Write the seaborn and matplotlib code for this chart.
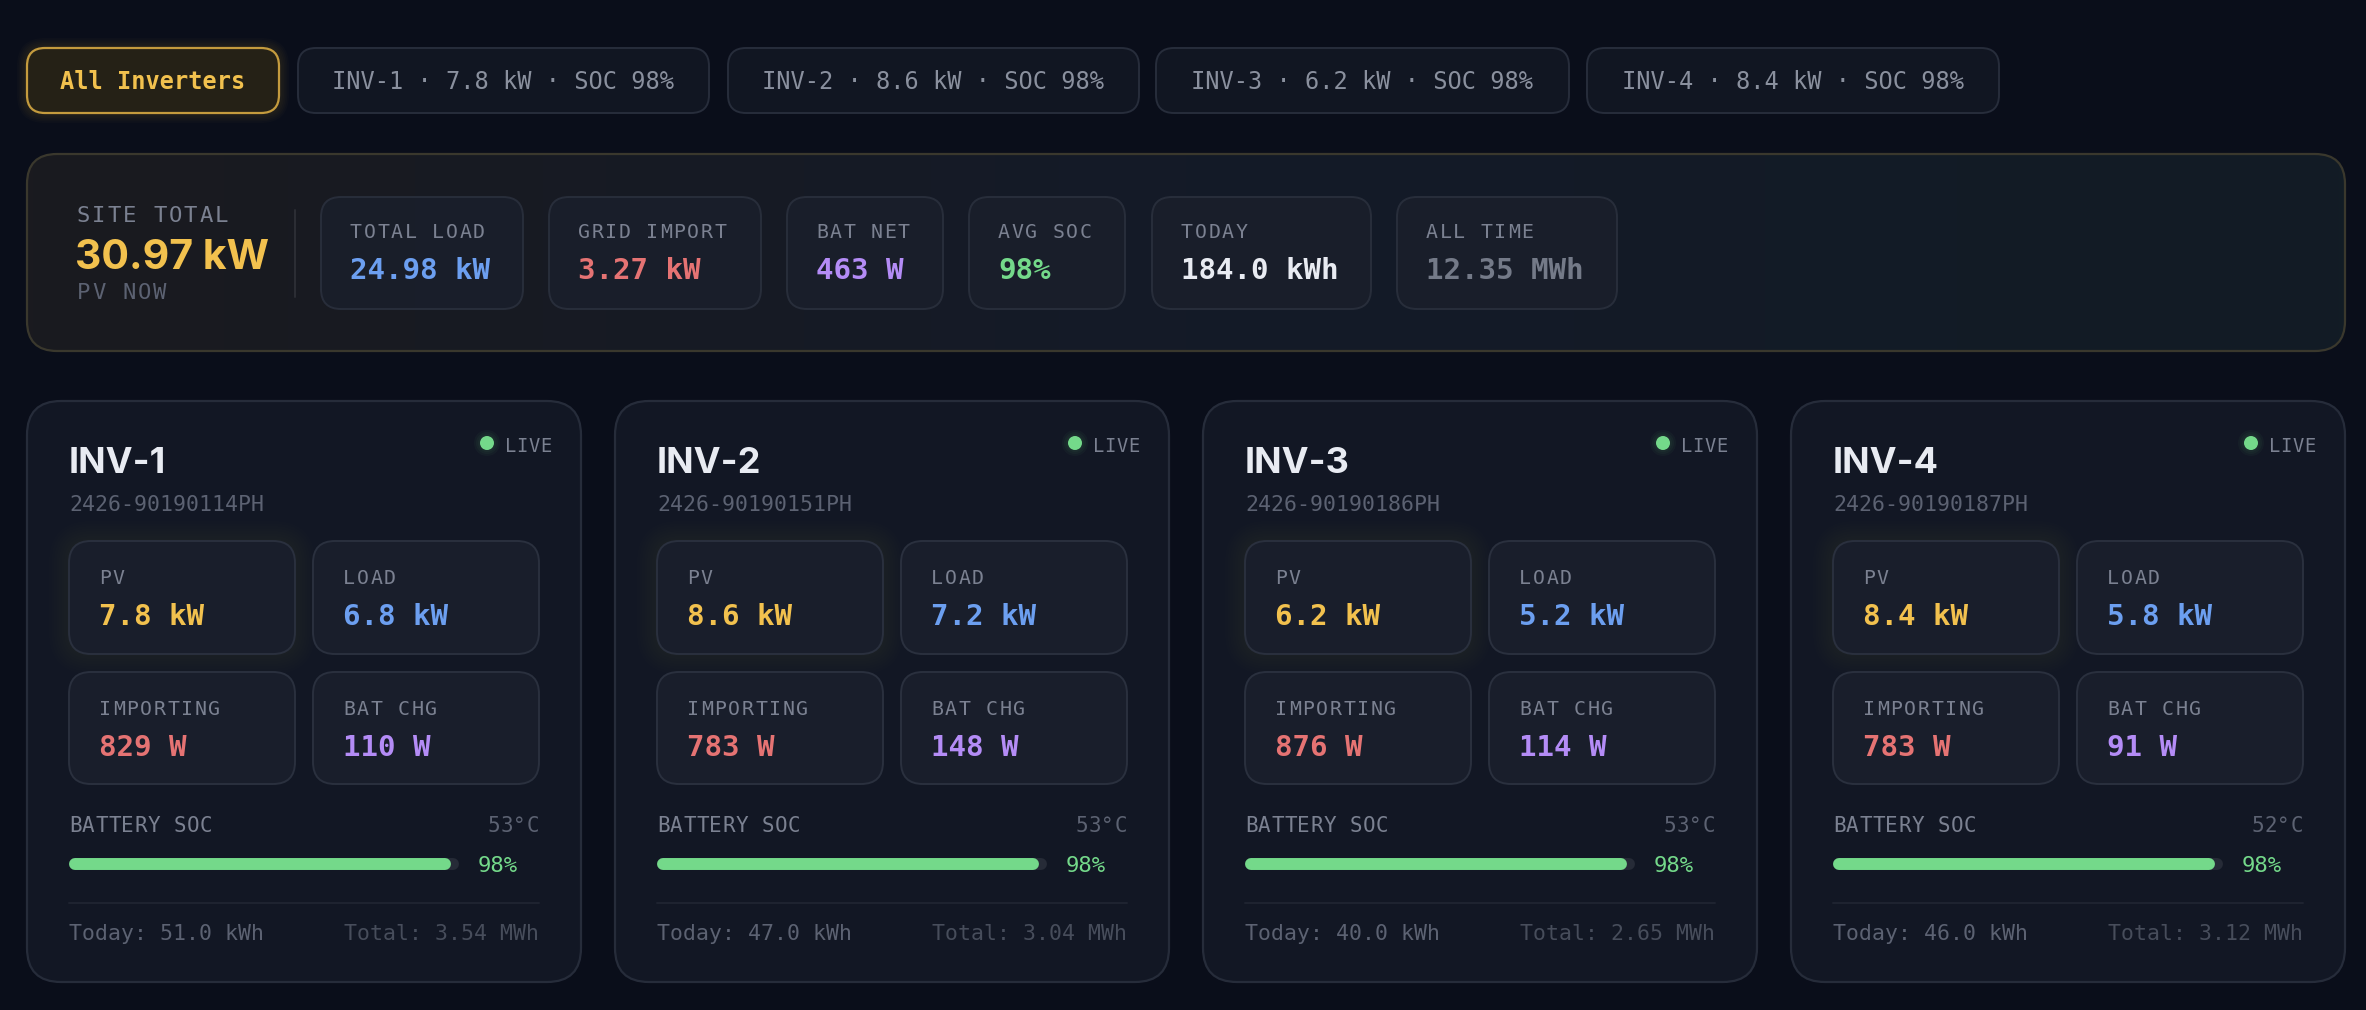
import numpy as np
import matplotlib
matplotlib.use("Agg")
import matplotlib.pyplot as plt
import seaborn as sns
from matplotlib.patches import FancyBboxPatch, Circle
from matplotlib.colors import to_rgb

sns.set_theme(style="dark")
plt.rcParams['font.family'] = ['DejaVu Sans Mono', 'DejaVu Sans']

# ---- data ----
inv_names = ['INV-1', 'INV-2', 'INV-3', 'INV-4']
serials = ['2426-90190114PH', '2426-90190151PH', '2426-90190186PH', '2426-90190187PH']
pv_kw = [7.8, 8.6, 6.2, 8.4]
load_kw = [6.8, 7.2, 5.2, 5.8]
import_w = [829, 783, 876, 783]
bat_chg_w = [110, 148, 114, 91]
soc_pct = [98, 98, 98, 98]
temp_c = [53, 53, 53, 52]
today_kwh = [51.0, 47.0, 40.0, 46.0]
total_mwh = [3.54, 3.04, 2.65, 3.12]

site_pv_kw = 30.97
site_labels = ['TOTAL LOAD', 'GRID IMPORT', 'BAT NET', 'AVG SOC', 'TODAY', 'ALL TIME']
site_values = ['24.98 kW', '3.27 kW', '463 W', '98%', '184.0 kWh', '12.35 MWh']

# ---- colours ----
BG = '#0a0e1a'
CARD = '#121724'
CARD_EC = '#262c3a'
BOX = '#191e2b'
BOX_EC = '#2a303e'
YELLOW = '#f2c14e'
BLUE = '#6c9ff0'
RED = '#e57373'
PURPLE = '#b48cf6'
GREEN = '#74d98a'
WHITE = '#e8ebf2'
LABEL = '#7b8191'
DIM = '#5c6272'
DIMMER = '#474d5b'
site_colors = [BLUE, RED, PURPLE, GREEN, WHITE, '#747a88']

W, H = 2366, 1010
fig = plt.figure(figsize=(W / 100, H / 100), dpi=100, facecolor=BG)
ax = fig.add_axes([0, 0, 1, 1])
ax.set_facecolor(BG)
ax.set_xlim(0, W)
ax.set_ylim(H, 0)
ax.axis('off')

SANS = ['Inter', 'DejaVu Sans']


def rbox(x0, y0, x1, y1, r, fc, ec, lw=1.4, z=1, alpha=1.0):
    p = FancyBboxPatch((x0 + r, y0 + r), x1 - x0 - 2 * r, y1 - y0 - 2 * r,
                       boxstyle=f"round,pad={r}", fc=fc, ec=ec, lw=lw,
                       zorder=z, alpha=alpha)
    ax.add_patch(p)
    return p


def glow(x0, y0, x1, y1, r, color, steps=8, spread=14, amax=0.05, z=0.5):
    for i in range(steps, 0, -1):
        d = spread * i / steps
        rbox(x0 - d, y0 - d, x1 + d, y1 + d, r + d, color, 'none', lw=0,
             z=z, alpha=amax)


def mono(x, y, s, size, color, spacing=0.0, ha='left', z=5, **kw):
    # monospace text with css-like letter spacing
    if spacing == 0:
        ax.text(x, y, s, color=color, fontsize=size, ha=ha, va='baseline', zorder=z, **kw)
        return
    adv = size * 100 / 72 * 0.602 + spacing
    total = adv * len(s) - spacing
    start = x if ha == 'left' else x - total
    for k, ch in enumerate(s):
        ax.text(start + k * adv, y, ch, color=color, fontsize=size,
                ha='left', va='baseline', zorder=z, **kw)


# ---- filter chips ----
chip_y0, chip_y1 = 48, 113
chip_x = [(27, 279), (298, 709), (728, 1139), (1156, 1569), (1587, 1999)]
chip_txt = ['All Inverters'] + [f'{n} · {p} kW · SOC {s}%' for n, p, s in zip(inv_names, pv_kw, soc_pct)]
for i, ((x0, x1), t) in enumerate(zip(chip_x, chip_txt)):
    if i == 0:
        glow(x0, chip_y0, x1, chip_y1, 18, YELLOW, steps=6, spread=10, amax=0.02)
        rbox(x0, chip_y0, x1, chip_y1, 18, '#252116', '#c49b3e', lw=1.6, z=2)
        ax.text((x0 + x1) / 2, 89, t, color=YELLOW, fontsize=17,
                fontweight='bold', ha='center', va='baseline', zorder=3)
    else:
        rbox(x0, chip_y0, x1, chip_y1, 18, '#111622', '#272d3b', lw=1.4, z=2)
        ax.text((x0 + x1) / 2, 89, t, color='#8a909e', fontsize=17,
                ha='center', va='baseline', zorder=3)

# ---- site panel ----
sx0, sy0, sx1, sy1 = 27, 154, 2345, 351
panel = rbox(sx0, sy0, sx1, sy1, 30, 'none', '#3a382d', lw=1.6, z=3)
stops = np.array([to_rgb('#1a1a1f'), to_rgb('#141a28'), to_rgb('#121c25')])
t = np.linspace(0, 1, 400)
grad = np.empty((1, 400, 3))
for c in range(3):
    grad[0, :, c] = np.interp(t, [0, 0.5, 1], stops[:, c])
im = ax.imshow(grad, extent=[sx0, sx1, sy1, sy0], aspect='auto', zorder=1)
im.set_clip_path(panel)
ax.set_xlim(0, W)
ax.set_ylim(H, 0)

mono(77, 222, 'SITE TOTAL', 16, LABEL, spacing=1.9)
ax.text(75, 269, f'{site_pv_kw:.2f} kW', color=YELLOW, fontsize=29.5,
        fontweight='bold', family=SANS, va='baseline', zorder=4)
mono(77, 299, 'PV NOW', 16, DIM, spacing=1.9)
ax.plot([295, 295], [210, 297], color='#2c2e35', lw=1.4, zorder=4)

stat_x = [(321, 523), (549, 761), (787, 943), (969, 1125), (1152, 1371), (1397, 1617)]
for (x0, x1), lab, val, col in zip(stat_x, site_labels, site_values, site_colors):
    rbox(x0, 197, x1, 309, 20, '#1a1f2b', '#2a303d', lw=1.4, z=4, alpha=0.9)
    mono(x0 + 29, 238, lab, 14.3, LABEL, spacing=1.7)
    mono(x0 + 29, 279, val, 21, col, fontweight='bold')

# ---- inverter cards ----
card_left = [27, 615, 1203, 1791]
cw, cy0, cy1 = 554, 401, 982
for i, cx in enumerate(card_left):
    rbox(cx, cy0, cx + cw, cy1, 34, CARD, CARD_EC, lw=1.6, z=2)
    L = cx + 42
    R = cx + cw - 42
    ax.text(L, cy0 + 72, inv_names[i], color=WHITE, fontsize=26,
            fontweight='bold', family=SANS, va='baseline', zorder=4)
    for k in range(3, 0, -1):
        ax.add_patch(Circle((cx + 460, cy0 + 42), 7 + k * 2.0, color=GREEN,
                            alpha=0.04, lw=0, zorder=3))
    ax.add_patch(Circle((cx + 460, cy0 + 42), 7, color=GREEN, lw=0, zorder=4))
    mono(cx + 478, cy0 + 51, 'LIVE', 13.5, LABEL, spacing=0.3)
    mono(L, cy0 + 110, serials[i], 15.5, DIM)

    metrics = [('PV', f'{pv_kw[i]} kW', YELLOW),
               ('LOAD', f'{load_kw[i]} kW', BLUE),
               ('IMPORTING', f'{import_w[i]} W', RED),
               ('BAT CHG', f'{bat_chg_w[i]} W', PURPLE)]
    rows = [(140, 253), (271, 383)]
    cols = [(42, 268), (286, 512)]
    for j, (lab, val, col) in enumerate(metrics):
        bx0, bx1 = cols[j % 2]
        by0, by1 = rows[j // 2]
        if j == 0:
            glow(cx + bx0, cy0 + by0, cx + bx1, cy0 + by1, 22, YELLOW,
                 steps=8, spread=20, amax=0.007, z=2.5)
        rbox(cx + bx0, cy0 + by0, cx + bx1, cy0 + by1, 22, BOX, BOX_EC, lw=1.4, z=3)
        mono(cx + bx0 + 30, cy0 + by0 + 43, lab, 14.3, LABEL, spacing=1.7)
        mono(cx + bx0 + 30, cy0 + by0 + 84, val, 21, col, fontweight='bold')

    mono(L, cy0 + 431, 'BATTERY SOC', 15, LABEL, spacing=0.5)
    mono(R, cy0 + 431, f'{temp_c[i]}°C', 15, DIM, spacing=0.5, ha='right')

    # SOC progress bar on its own 0-100 axis
    bar_l = L + 6
    bar_r = cx + 432 - 6
    bax = fig.add_axes([bar_l / W, 1 - (cy0 + 463 + 8) / H,
                        (bar_r - bar_l) / W, 16 / H])
    bax.set_xlim(0, 100)
    bax.set_ylim(-1, 1)
    bax.axis('off')
    bax.patch.set_alpha(0)
    bax.plot([0, 100], [0, 0], color='#262b37', lw=8.6, solid_capstyle='round',
             clip_on=False)
    sns.lineplot(x=[0, soc_pct[i]], y=[0, 0], ax=bax, color=GREEN, lw=8.6,
                 solid_capstyle='round', clip_on=False)
    mono(cx + 451, cy0 + 471, f'{soc_pct[i]}%', 16, GREEN)

    ax.plot([L, R], [cy0 + 502, cy0 + 502], color='#1f2431', lw=1.4, zorder=4)
    mono(L, cy0 + 539, f'Today: {today_kwh[i]:.1f} kWh', 15.5, DIM)
    mono(R, cy0 + 539, f'Total: {total_mwh[i]:.2f} MWh', 15.5, DIMMER, ha='right')

fig.savefig('out.png', dpi=100, facecolor=BG)
